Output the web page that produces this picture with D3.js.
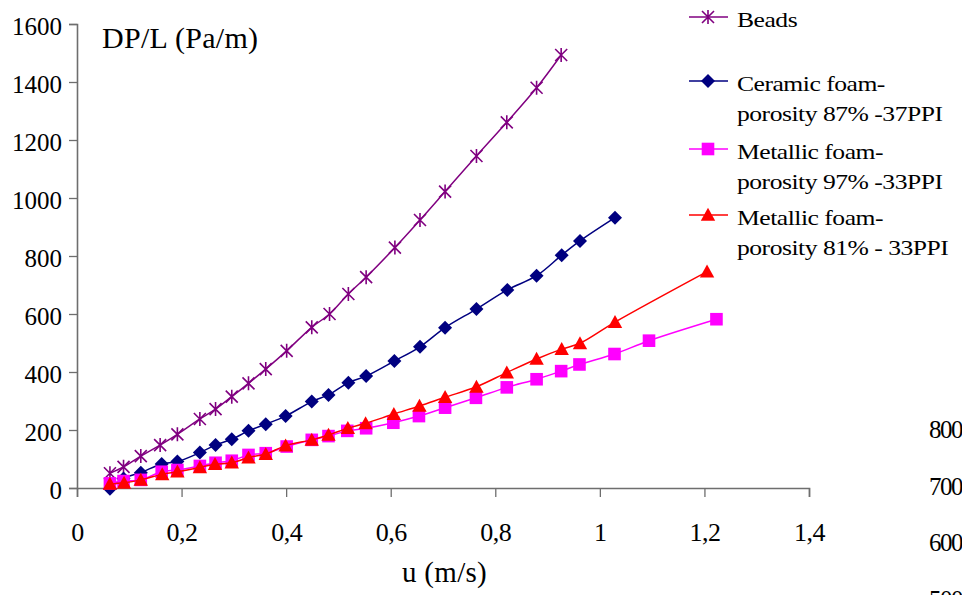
<!DOCTYPE html>
<html><head><meta charset="utf-8">
<script src="https://cdn.jsdelivr.net/npm/d3@7/dist/d3.min.js"></script>
<style>
html,body{margin:0;padding:0;background:#fff;}
svg{display:block;}
svg text{font-family:"Liberation Serif","Times New Roman",serif;fill:#000;}
</style></head>
<body>
<script>
// ---- data ----
const uBeads = [0.063,0.089,0.122,0.159,0.192,0.235,0.265,0.296,0.328,0.361,0.401,0.449,0.483,0.519,0.553,0.608,0.656,0.704,0.764,0.822,0.879,0.926];
const beads  = [51,73,110,148,185,238,272,315,361,410,473,554,600,669,727,829,924,1022,1145,1261,1380,1493];

const uCeramic = [0.063,0.089,0.122,0.162,0.192,0.235,0.265,0.296,0.328,0.361,0.399,0.449,0.481,0.519,0.553,0.607,0.656,0.704,0.764,0.823,0.879,0.927,0.962,1.029];
const ceramic  = [-3,33,53,83,91,122,148,168,197,220,248,298,321,363,386,438,487,553,617,683,732,803,852,932];

const uMetal97 = [0.063,0.089,0.122,0.162,0.192,0.235,0.265,0.296,0.328,0.361,0.401,0.449,0.481,0.517,0.553,0.605,0.654,0.704,0.763,0.822,0.879,0.926,0.961,1.028,1.094,1.223];
const metal97  = [16,24,28,56,62,76,87,94,114,120,143,166,179,197,206,225,248,277,311,347,375,403,426,462,508,582];

const uMetal81 = [0.063,0.090,0.122,0.163,0.192,0.235,0.264,0.296,0.328,0.361,0.399,0.449,0.481,0.518,0.552,0.606,0.655,0.704,0.764,0.822,0.879,0.927,0.962,1.029,1.205];
const metal81  = [14,18,28,47,56,71,82,87,105,117,146,166,183,206,223,255,283,313,349,398,445,479,499,572,746];

const xTicks = [0,0.2,0.4,0.6,0.8,1,1.2,1.4];
const xTickLabels = ["0","0,2","0,4","0,6","0,8","1","1,2","1,4"];
const yTicks = [0,200,400,600,800,1000,1200,1400,1600];
const strayLabels = ["800","700","600","500"];

const seriesNames = [["Beads"],["Ceramic foam-","porosity 87% -37PPI"],["Metallic foam-","porosity 97% -33PPI"],["Metallic foam-","porosity 81% - 33PPI"]];
const seriesColors = ["#800080","#000080","#FF00FF","#FF0000"];
const seriesShapes = ["star","diamond","square","triangle"];

// ---- chart ----
const W = 962, H = 595;
const svg = d3.select("body").append("svg").attr("width",W).attr("height",H);

const x = d3.scaleLinear().domain([0,1.4]).range([77,809]);
const y = d3.scaleLinear().domain([0,1600]).range([488,24]);

const axisColor = "#6e6e6e";

// x axis
const gx = svg.append("g").attr("transform",`translate(0,${y(0)})`)
  .call(d3.axisBottom(x).tickValues(xTicks).tickFormat((d,i)=>xTickLabels[i]).tickSizeOuter(0).tickSize(9).tickPadding(26));
gx.select(".domain").attr("stroke",axisColor).attr("stroke-width",1.6);
gx.selectAll(".tick line").attr("stroke",axisColor).attr("stroke-width",1.3);
gx.selectAll(".tick text").attr("font-size",26).attr("fill","#000").attr("letter-spacing","-0.5px");

// y axis
const gy = svg.append("g").attr("transform",`translate(${x(0)},0)`)
  .call(d3.axisLeft(y).tickValues(yTicks).tickFormat(d3.format("d")).tickSizeOuter(0).tickSize(8).tickPadding(7));
gy.select(".domain").attr("stroke",axisColor).attr("stroke-width",1.6);
gy.selectAll(".tick line").attr("stroke",axisColor).attr("stroke-width",1.3);
gy.selectAll(".tick text").attr("font-size",25).attr("fill","#000").attr("letter-spacing","0px").attr("dy","0.4em");

// axis titles
svg.append("text").attr("x",102).attr("y",48).attr("font-size",30).attr("letter-spacing","0.3px").text("DP/L (Pa/m)");
svg.append("text").attr("x",402).attr("y",582).attr("font-size",29).attr("letter-spacing","0.3px").text("u (m/s)");

// stray labels of another chart at the right edge (clipped like in the reference)
svg.selectAll(".stray").data(strayLabels).enter().append("text")
  .attr("class","stray").attr("x",962).attr("y",(d,i)=>438+i*56.5)
  .attr("text-anchor","end").attr("font-size",25).attr("letter-spacing","-1.5px").text(d=>d);

// markers
function drawMarker(g, shape, color, cx, cy){
  if(shape==="star"){
    const r=7, d=6;
    g.append("path").attr("d",`M${cx},${cy-r}L${cx},${cy+r}M${cx-d},${cy-d}L${cx+d},${cy+d}M${cx-d},${cy+d}L${cx+d},${cy-d}`)
      .attr("stroke",color).attr("stroke-width",1.6).attr("fill","none");
  } else if(shape==="diamond"){
    const r=7;
    g.append("path").attr("d",`M${cx},${cy-r}L${cx+r},${cy}L${cx},${cy+r}L${cx-r},${cy}Z`).attr("fill",color);
  } else if(shape==="square"){
    const r=6.3;
    g.append("rect").attr("x",cx-r).attr("y",cy-r).attr("width",2*r).attr("height",2*r).attr("fill",color);
  } else {
    const w=7.2, h=13;
    g.append("path").attr("d",`M${cx},${cy-h*0.55}L${cx+w},${cy+h*0.45}L${cx-w},${cy+h*0.45}Z`).attr("fill",color);
  }
}

const series = [
  {u:uBeads, v:beads},
  {u:uCeramic, v:ceramic},
  {u:uMetal97, v:metal97},
  {u:uMetal81, v:metal81}
];

const line = d3.line().x(d=>x(d[0])).y(d=>y(d[1])).curve(d3.curveCatmullRom.alpha(0.5));

series.forEach((s,k)=>{
  const pts = s.u.map((u,i)=>[u,s.v[i]]);
  const g = svg.append("g");
  g.append("path").attr("d",line(pts)).attr("fill","none").attr("stroke",seriesColors[k]).attr("stroke-width",1.5);
  pts.forEach(p=>drawMarker(g, seriesShapes[k], seriesColors[k], x(p[0]), y(p[1])));
});

// legend
const legendY = [17,81,149,215];
const lg = svg.append("g");
seriesNames.forEach((names,k)=>{
  const cy = legendY[k];
  lg.append("line").attr("x1",689).attr("x2",728).attr("y1",cy).attr("y2",cy).attr("stroke",seriesColors[k]).attr("stroke-width",1.5);
  drawMarker(lg, seriesShapes[k], seriesColors[k], 708, cy);
  names.forEach((t,j)=>{
    lg.append("text").attr("transform",`translate(737,${cy+10+j*30}) scale(1.22,1)`)
      .attr("font-size",21).attr("letter-spacing","-0.4px").text(t);
  });
});
</script>
</body></html>
